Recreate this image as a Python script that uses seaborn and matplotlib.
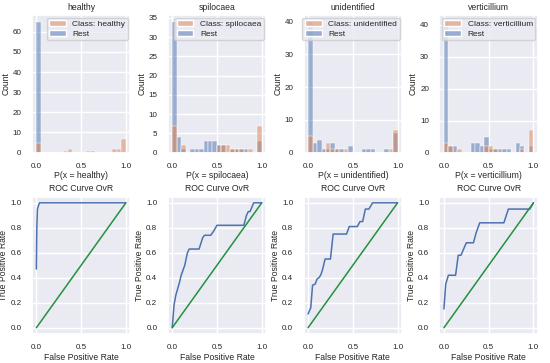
import numpy as np
import pandas as pd
import matplotlib
matplotlib.use("Agg")
import matplotlib.pyplot as plt
import seaborn as sns

classes = ["healthy", "spilocaea", "unidentified", "verticillium"]

# histogram bins: 20 bins of width 0.05 over [0, 1]
n_bins = 20
bin_centers = (np.arange(n_bins) + 0.5) / n_bins

# counts per bin (index 0..19)
class_counts = {
    "healthy":      [5, 0, 0, 0, 0, 0, 1, 2, 0, 0, 0, 1, 1, 0, 0, 0, 0, 2, 2, 7],
    "spilocaea":    [7, 0, 2, 0, 0, 0, 0, 0, 0, 0, 2, 2, 2, 1, 1, 1, 0, 1, 0, 7],
    "unidentified": [5, 0, 0, 0, 3, 1, 1, 0, 1, 0, 0, 0, 0, 0, 0, 0, 0, 0, 1, 7],
    "verticillium": [3, 2, 0, 1, 0, 0, 0, 0, 0, 2, 2, 1, 0, 0, 0, 0, 0, 1, 0, 7],
}
rest_counts = {
    "healthy":      [65, 0, 0, 0, 0, 0, 0, 0, 0, 0, 0, 0, 0, 0, 0, 0, 0, 0, 0, 0],
    "spilocaea":    [34, 4, 1, 0, 1, 1, 1, 3, 3, 3, 2, 2, 0, 1, 1, 1, 1, 0, 0, 3],
    "unidentified": [40, 3, 4, 1, 1, 3, 1, 1, 0, 2, 0, 0, 1, 1, 1, 0, 0, 1, 0, 6],
    "verticillium": [41, 2, 2, 0, 0, 0, 3, 3, 2, 5, 1, 1, 1, 1, 1, 0, 3, 2, 0, 2],
}

# ROC curves (one vs rest)
roc_fpr = {
    "healthy":      [0.0, 0.005, 0.012, 0.02, 0.035, 0.06, 1.0],
    "spilocaea":    [0.0, 0.02, 0.04, 0.06, 0.08, 0.10, 0.14, 0.17, 0.19, 0.30, 0.34, 0.36,
                     0.43, 0.46, 0.50, 0.80, 0.83, 0.85, 0.87, 0.91, 1.0],
    "unidentified": [0.0, 0.03, 0.05, 0.08, 0.10, 0.12, 0.14, 0.16, 0.19, 0.25, 0.28, 0.43,
                     0.46, 0.55, 0.58, 0.61, 0.64, 0.68, 0.72, 1.0],
    "verticillium": [0.0, 0.02, 0.05, 0.13, 0.16, 0.19, 0.25, 0.33, 0.36, 0.40, 0.67, 0.72,
                     0.96, 1.0],
}
roc_tpr = {
    "healthy":      [0.47, 0.80, 0.95, 0.97, 1.0, 1.0, 1.0],
    "spilocaea":    [0.0, 0.18, 0.26, 0.31, 0.36, 0.42, 0.50, 0.60, 0.63, 0.63, 0.72, 0.74,
                     0.74, 0.77, 0.82, 0.82, 0.90, 0.93, 0.93, 1.0, 1.0],
    "unidentified": [0.11, 0.16, 0.34, 0.35, 0.39, 0.40, 0.42, 0.46, 0.55, 0.55, 0.75, 0.75,
                     0.81, 0.81, 0.85, 0.85, 0.95, 0.95, 1.0, 1.0],
    "verticillium": [0.15, 0.35, 0.42, 0.42, 0.58, 0.58, 0.68, 0.68, 0.76, 0.84, 0.84, 0.95,
                     0.95, 1.0],
}
diag = [0.0, 1.0]

sns.set_theme(style="darkgrid")
plt.rcParams["font.family"] = ["Liberation Sans", "DejaVu Sans"]

fig, axes = plt.subplots(2, 4, figsize=(5.5, 3.63), dpi=100)
fig.subplots_adjust(left=0.058, right=0.978, top=0.958, bottom=0.08,
                    wspace=0.38, hspace=0.32)

blue = "#4c72b0"
orange = "#dd8452"
green = "#23913f"
fs_lab = 6.2
fs_tick = 5.8

for i, c in enumerate(classes):
    ax = axes[0, i]
    lab = f"Class: {c}"
    df = pd.DataFrame({
        "p": np.concatenate([bin_centers, bin_centers]),
        "n": class_counts[c] + rest_counts[c],
        "group": [lab] * n_bins + ["Rest"] * n_bins,
    })
    sns.histplot(data=df, x="p", weights="n", hue="group", bins=n_bins,
                 binrange=(0, 1), hue_order=[lab, "Rest"],
                 palette={lab: orange, "Rest": blue}, alpha=0.5, ax=ax)
    sns.move_legend(ax, "upper right", title=None, fontsize=6.0,
                    borderpad=0.3, labelspacing=0.2, handlelength=2.0,
                    borderaxespad=0.3)
    ax.set_title(c, fontsize=fs_lab, pad=4)
    ax.set_xlabel(f"P(x = {c})", fontsize=fs_lab, labelpad=0.5)
    ax.set_ylabel("Count", fontsize=fs_lab, labelpad=1.5)
    ax.set_xticks([0, 0.5, 1.0])
    ax.tick_params(labelsize=fs_tick, pad=1.5)

    ax = axes[1, i]
    sns.lineplot(x=roc_fpr[c], y=roc_tpr[c], sort=False, estimator=None,
                 color=blue, linewidth=1.1, ax=ax)
    sns.lineplot(x=diag, y=diag, color=green, linewidth=1.1, ax=ax)
    ax.set_xlim(-0.05, 1.05)
    ax.set_ylim(-0.05, 1.05)
    ax.set_xticks([0, 0.5, 1.0])
    ax.set_yticks([0, 0.2, 0.4, 0.6, 0.8, 1.0])
    ax.set_title("ROC Curve OvR", fontsize=fs_lab, pad=4)
    ax.set_xlabel("False Positive Rate", fontsize=fs_lab, labelpad=1.0)
    ax.set_ylabel("True Positive Rate", fontsize=fs_lab, labelpad=1.5)
    ax.tick_params(labelsize=fs_tick, pad=1.5)

fig.savefig("out.png", dpi=100)
